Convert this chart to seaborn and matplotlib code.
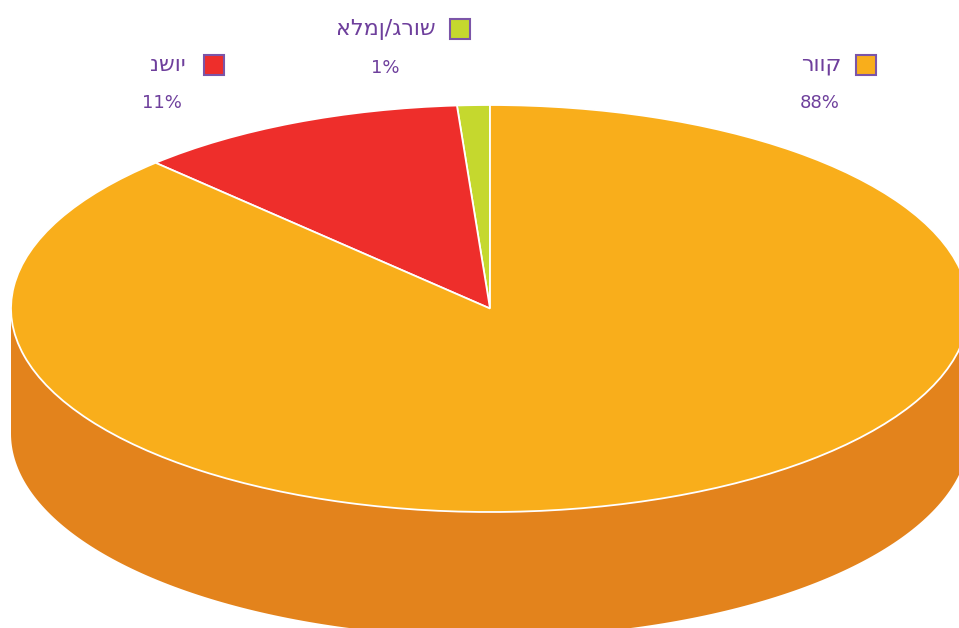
import numpy as np
import matplotlib

matplotlib.use("Agg")
import matplotlib.pyplot as plt
import seaborn as sns
from matplotlib.patches import Rectangle, Polygon

# data (pie order, counter-clockwise from 12 o'clock)
LABELS = ["אלמן/גרוש", "נשוי", "רווק"]
PCT_TEXT = ["1%", "11%", "88%"]
VALUES = [1.1, 11.2, 87.7]
TOP_COLORS = ["#C5D82E", "#EE2E2B", "#F9AE1B"]
SIDE_COLORS = ["#A2B225", "#C22522", "#E3831C"]

TEXT_COLOR = "#6E3F9C"
EDGE_COLOR = "#7B55A8"

W, H = 959, 628
RX_PX, RY_PX = 479, 203.5
CX_PX, CY_PX = 490, 308.5
DEPTH = 125 / RY_PX

# legend-style labels: (square centre, text right edge, pct centre) in px
LABEL_POS = [
    ((460, 29), (436, 29), (385, 68)),
    ((214, 65), (186, 65), (162, 103)),
    ((866, 65), (841, 65), (820, 103)),
]

sns.set_theme(style="white")
plt.rcParams["font.family"] = ["DejaVu Sans"]

fig = plt.figure(figsize=(W / 100, H / 100), dpi=100)
ax = fig.add_axes([0, 0, 1, 1])

wedges, _ = ax.pie(
    VALUES,
    colors=TOP_COLORS,
    startangle=90,
    counterclock=True,
    wedgeprops=dict(edgecolor="white", linewidth=1.3, zorder=3),
)

# side walls: only the front half (180..360 deg) is visible
for w, c in zip(wedges, SIDE_COLORS):
    t1, t2 = w.theta1 % 360, w.theta2 % 360
    if t2 <= t1:
        t2 += 360
    for lo, hi in [(180, 360), (540, 720)]:
        a, b = max(t1, lo), min(t2, hi)
        if b <= a:
            continue
        th = np.radians(np.linspace(a, b, 200))
        top = np.column_stack([np.cos(th), np.sin(th)])
        bot = top[::-1] - [0, DEPTH]
        ax.add_patch(Polygon(np.vstack([top, bot]), closed=True,
                             facecolor=c, edgecolor="none", zorder=1))

ax.set_aspect("auto")
ax.set_xlim(-CX_PX / RX_PX, (W - CX_PX) / RX_PX)
ax.set_ylim(-(H - CY_PX) / RY_PX, CY_PX / RY_PX)
ax.axis("off")

for lab, pct, col, (sq, tx, pc) in zip(LABELS, PCT_TEXT, TOP_COLORS, LABEL_POS):
    s = 20
    fig.add_artist(Rectangle(((sq[0] - s / 2) / W, 1 - (sq[1] + s / 2) / H), s / W, s / H,
                             transform=fig.transFigure, facecolor=col,
                             edgecolor=EDGE_COLOR, linewidth=1.5))
    fig.text(tx[0] / W, 1 - tx[1] / H, lab, ha="right", va="center",
             fontsize=16, color=TEXT_COLOR)
    fig.text(pc[0] / W, 1 - pc[1] / H, pct, ha="center", va="center",
             fontsize=13, color=TEXT_COLOR)

fig.savefig("out.png", dpi=100, facecolor="white")
